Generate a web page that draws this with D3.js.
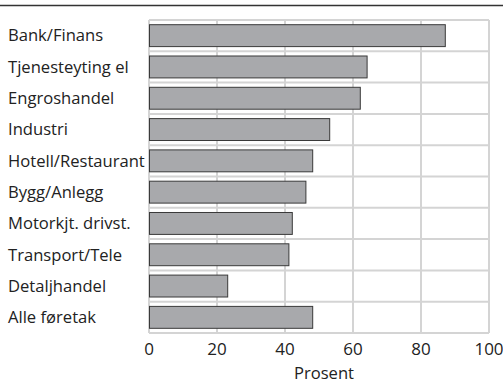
<!DOCTYPE html>
<html>
<head>
<meta charset="utf-8">
<script src="https://cdn.jsdelivr.net/npm/d3@7"></script>
<style>
  body { margin: 0; background: #fff; }
  svg { display: block; font-family: "Open Sans", "Noto Sans", sans-serif; }
</style>
</head>
<body>
<svg id="chart"></svg>
<script>
const categories = ["Bank/Finans", "Tjenesteyting el", "Engroshandel", "Industri",
  "Hotell/Restaurant", "Bygg/Anlegg", "Motorkjt. drivst.", "Transport/Tele",
  "Detaljhandel", "Alle føretak"];
const values = [87, 64, 62, 53, 48, 46, 42, 41, 23, 48];
const xTicks = [0, 20, 40, 60, 80, 100];
const xTitle = "Prosent";

const width = 503, height = 388;
const margin = {top: 20, right: 14, bottom: 55, left: 149};

const svg = d3.select('#chart')
    .attr('width', width)
    .attr('height', height);

// top rule
svg.append('line')
    .attr('x1', 0).attr('x2', width)
    .attr('y1', 5.5).attr('y2', 5.5)
    .attr('stroke', '#333')
    .attr('stroke-width', 1.5);

const x = d3.scaleLinear()
    .domain([0, 100])
    .range([margin.left, width - margin.right]);

const y = d3.scaleBand()
    .domain(categories)
    .range([margin.top, height - margin.bottom])
    .paddingInner(0.3)
    .paddingOuter(0.15);

const plotTop = margin.top, plotBottom = height - margin.bottom;

// grid: vertical lines at ticks
svg.append('g')
    .selectAll('line')
    .data(xTicks)
    .enter()
    .append('line')
    .attr('x1', d => x(d)).attr('x2', d => x(d))
    .attr('y1', plotTop).attr('y2', plotBottom)
    .attr('stroke', '#d4d4d4')
    .attr('stroke-width', 2);

// grid: horizontal lines between bands
const hLines = d3.range(categories.length + 1).map(i => plotTop + i * (plotBottom - plotTop) / categories.length);
svg.append('g')
    .selectAll('line')
    .data(hLines)
    .enter()
    .append('line')
    .attr('x1', x(0)).attr('x2', x(100))
    .attr('y1', d => d).attr('y2', d => d)
    .attr('stroke', '#d4d4d4')
    .attr('stroke-width', 2);

// bars
svg.append('g')
    .selectAll('rect')
    .data(categories)
    .enter()
    .append('rect')
    .attr('x', x(0) + 0.5)
    .attr('y', d => y(d))
    .attr('width', (d, i) => x(values[i]) - x(0))
    .attr('height', y.bandwidth())
    .attr('fill', '#a8a9ac')
    .attr('stroke', '#3a3a3a')
    .attr('stroke-width', 1);

// category labels
svg.append('g')
    .selectAll('text')
    .data(categories)
    .enter()
    .append('text')
    .attr('x', 8)
    .attr('y', d => y(d) + y.bandwidth() / 2)
    .attr('dy', '0.35em')
    .attr('font-size', 16.6)
    .attr('fill', '#222')
    .text(d => d);

// x tick labels
svg.append('g')
    .selectAll('text')
    .data(xTicks)
    .enter()
    .append('text')
    .attr('x', d => x(d))
    .attr('y', plotBottom + 16)
    .attr('dy', '0.35em')
    .attr('text-anchor', 'middle')
    .attr('font-size', 17)
    .attr('fill', '#222')
    .text(d => d);

svg.append('text')
    .attr('x', (x(0) + x(100)) / 2 + 5)
    .attr('y', plotBottom + 40)
    .attr('dy', '0.35em')
    .attr('text-anchor', 'middle')
    .attr('font-size', 16.6)
    .attr('fill', '#222')
    .text(xTitle);
</script>
</body>
</html>
